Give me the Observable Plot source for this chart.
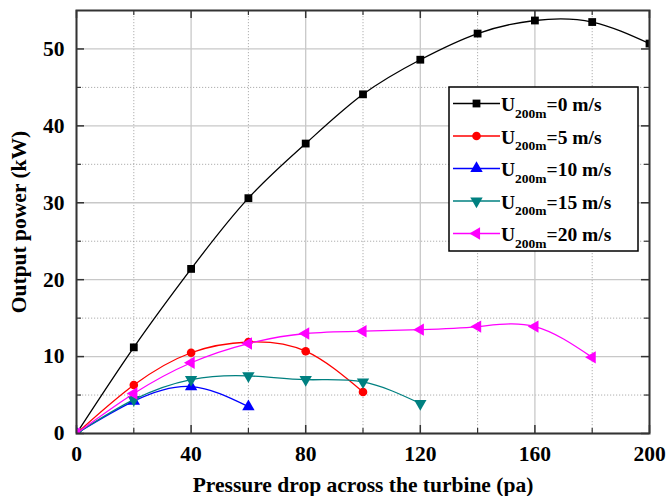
<!DOCTYPE html>
<html>
<head>
<meta charset="utf-8">
<script src="https://cdn.jsdelivr.net/npm/d3@7"></script>
<script src="https://cdn.jsdelivr.net/npm/@observablehq/plot@0.6"></script>
<style>
  html, body { margin: 0; padding: 0; background: #fff; }
  #chart { width: 667px; height: 496px; }
  svg text { font-family: "Liberation Serif", "Times New Roman", serif; }
</style>
</head>
<body>
<div id="chart"></div>
<script>
// Pressure drop across the turbine (pa)
const pressure = [0, 20, 40, 60, 80, 100, 120, 140, 160, 180, 200];

// Output power (kW) for each wind speed at 200 m
const power0  = [0, 11.2, 21.4, 30.6, 37.7, 44.1, 48.6, 52.0, 53.7, 53.5, 50.7];
const power5  = [0, 6.3, 10.5, 11.9, 10.7, 5.4];
const power10 = [0, 4.2, 6.1, 3.5];
const power15 = [0, 4.4, 7.0, 7.5, 7.0, 6.7, 3.9];
const power20 = [0, 5.2, 9.2, 11.7, 13.0, 13.3, 13.5, 13.9, 13.9, 9.9];

const speeds = ["0", "5", "10", "15", "20"];
const seriesValues = [power0, power5, power10, power15, power20];

const xMajor = [0, 40, 80, 120, 160, 200];
const xMinor = [20, 60, 100, 140, 180];
const yMajor = [0, 10, 20, 30, 40, 50];
const yMinor = [5, 15, 25, 35, 45];

// Triangle symbols pointing down and left (same area as d3.symbolTriangle)
const sqrt3 = Math.sqrt(3);
const triangleDown = {
  draw(context, size) {
    const y = -Math.sqrt(size / (sqrt3 * 3));
    context.moveTo(0, -y * 2);
    context.lineTo(-sqrt3 * y, y);
    context.lineTo(sqrt3 * y, y);
    context.closePath();
  }
};
const triangleLeft = {
  draw(context, size) {
    const y = -Math.sqrt(size / (sqrt3 * 3));
    context.moveTo(y * 2, 0);
    context.lineTo(-y, -sqrt3 * y);
    context.lineTo(-y, sqrt3 * y);
    context.closePath();
  }
};

const styles = [
  {color: "#000000", symbol: d3.symbolSquare, r: 4.4},
  {color: "#ff0000", symbol: d3.symbolCircle, r: 4.3},
  {color: "#0000ff", symbol: d3.symbolTriangle, r: 4.6},
  {color: "#008080", symbol: triangleDown, r: 4.6},
  {color: "#ff00ff", symbol: triangleLeft, r: 4.6}
];

const rows = seriesValues.map((vals, i) =>
  vals.map((p, j) => ({pressure: pressure[j], power: p, speed: speeds[i]}))
);

const margin = {top: 10, right: 18, bottom: 63, left: 76};
const width = 667, height = 496;
const innerW = width - margin.left - margin.right;
const innerH = height - margin.top - margin.bottom;
const tickColor = "#333";

const seriesMarks = rows.flatMap((data, i) => [
  Plot.line(data, {x: "pressure", y: "power", stroke: styles[i].color, strokeWidth: 1.3, curve: "natural", clip: "frame"}),
  Plot.dot(data, {x: "pressure", y: "power", fill: styles[i].color, stroke: "none", symbol: styles[i].symbol, r: styles[i].r, clip: "frame"})
]);

const chart = Plot.plot({
  width, height,
  marginTop: margin.top, marginRight: margin.right, marginBottom: margin.bottom, marginLeft: margin.left,
  style: {fontFamily: "'Liberation Serif', 'Times New Roman', serif", color: "#000", background: "#fff"},
  x: {domain: [0, 200]},
  y: {domain: [0, 55]},
  marks: [
    // grid
    Plot.gridX(xMinor, {stroke: "#888", strokeOpacity: 0.85, strokeWidth: 0.8, strokeDasharray: "1.2,1.8"}),
    Plot.gridY(yMinor, {stroke: "#888", strokeOpacity: 0.85, strokeWidth: 0.8, strokeDasharray: "1.2,1.8"}),
    Plot.gridX(xMajor, {stroke: "#c8c8c8", strokeOpacity: 1, strokeWidth: 1.3}),
    Plot.gridY(yMajor, {stroke: "#c8c8c8", strokeOpacity: 1, strokeWidth: 1.3}),
    // inward ticks on all four sides
    Plot.tickX(xMajor, {x: d => d, insetTop: innerH - 8, stroke: tickColor, strokeWidth: 1.5}),
    Plot.tickX(xMajor, {x: d => d, insetBottom: innerH - 8, stroke: tickColor, strokeWidth: 1.5}),
    Plot.tickX(xMinor, {x: d => d, insetTop: innerH - 5, stroke: tickColor, strokeWidth: 1.2}),
    Plot.tickX(xMinor, {x: d => d, insetBottom: innerH - 5, stroke: tickColor, strokeWidth: 1.2}),
    Plot.tickY(yMajor, {y: d => d, insetRight: innerW - 8, stroke: tickColor, strokeWidth: 1.5}),
    Plot.tickY(yMajor, {y: d => d, insetLeft: innerW - 8, stroke: tickColor, strokeWidth: 1.5}),
    Plot.tickY(yMinor, {y: d => d, insetRight: innerW - 5, stroke: tickColor, strokeWidth: 1.2}),
    Plot.tickY(yMinor, {y: d => d, insetLeft: innerW - 5, stroke: tickColor, strokeWidth: 1.2}),
    // axes
    Plot.axisX(xMajor, {tickSize: 0, tickPadding: 12, fontSize: 21.5, fontWeight: "bold",
      label: "Pressure drop across the turbine (pa)", labelAnchor: "center", labelOffset: 58, labelArrow: "none"}),
    Plot.axisY(yMajor, {tickSize: 0, tickPadding: 12, fontSize: 21.5, fontWeight: "bold",
      label: "Output power (kW)", labelAnchor: "center", labelOffset: 66, labelArrow: "none"}),
    ...seriesMarks,
    Plot.frame({stroke: "#333", strokeWidth: 2})
  ]
});

// Legend box in the upper right of the plot area
const svg = d3.select(chart);
const legend = svg.append("g").attr("transform", "translate(449,87)");
legend.append("rect")
  .attr("width", 189).attr("height", 164)
  .attr("fill", "#fff").attr("stroke", "#000").attr("stroke-width", 1.5);
speeds.forEach((s, i) => {
  const cy = 16.5 + i * 32.5;
  const g = legend.append("g").attr("transform", `translate(0,${cy})`);
  g.append("line").attr("x1", 4).attr("x2", 51).attr("y1", 0).attr("y2", 0)
    .attr("stroke", styles[i].color).attr("stroke-width", 1.3);
  const size = Math.PI * styles[i].r * styles[i].r;
  g.append("path").attr("transform", "translate(27.5,0)")
    .attr("d", d3.symbol(styles[i].symbol, size)())
    .attr("fill", styles[i].color);
  const t = g.append("text").attr("x", 52).attr("y", 7.5)
    .attr("text-anchor", "start")
    .attr("font-size", 19.5).attr("font-weight", "bold").attr("fill", "#000");
  t.append("tspan").text("U");
  t.append("tspan").attr("font-size", 13.5).attr("dy", 6.5).text("200m");
  t.append("tspan").attr("dy", -6.5).text(`=${s} m/s`);
});

document.getElementById("chart").appendChild(chart);
</script>
</body>
</html>
